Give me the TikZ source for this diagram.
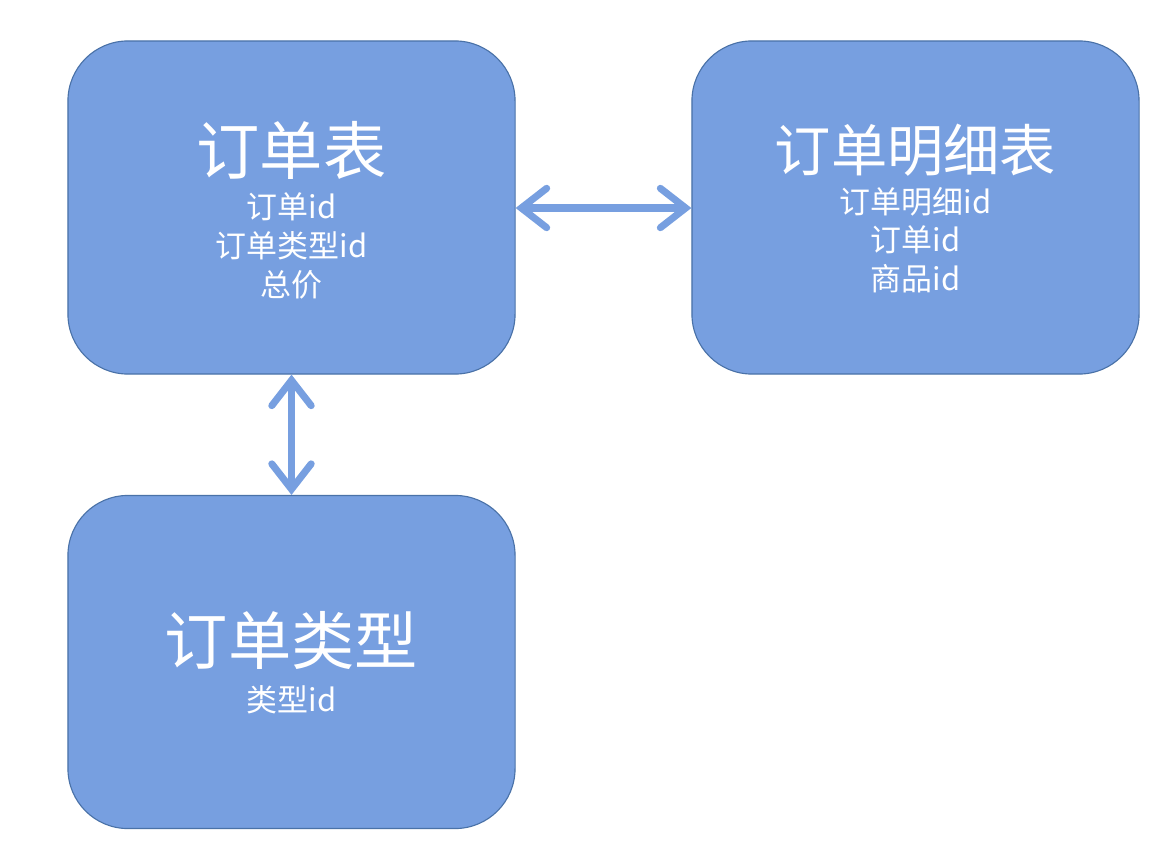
\documentclass[tikz,border=0pt]{standalone}
\usepackage{fontspec}
\newfontfamily\cjk{Noto Sans CJK SC}
\usetikzlibrary{positioning, arrows.meta}
\definecolor{boxfill}{HTML}{779FE0}
\definecolor{boxline}{HTML}{4A72A8}

\begin{document}
\begin{tikzpicture}[
    x=0.025cm, y=-0.025cm,
    every node/.style={font=\cjk, text=white},
    table/.style={draw=boxline, fill=boxfill, line width=0.8pt, rounded corners=1.5cm,
        minimum width=11.175cm, minimum height=8.325cm, anchor=center},
    title/.style={font=\cjk\fontsize{45}{50}\selectfont, anchor=center},
    fields/.style={font=\cjk\fontsize{22}{27.6}\selectfont, align=center, anchor=north},
    link/.style={{Straight Barb[length=18pt, width=28pt, line cap=round]}-{Straight Barb[length=18pt, width=28pt, line cap=round]},
        line width=5pt, boxfill, line cap=round}
]
    \useasboundingbox (0,0) rectangle (1162,854);
    \fill[white] (0,0) rectangle (1162,854);

    % --- tables ---
    \node[table] (order) at (291.5, 207.5) {};
    \node[table] (detail) at (915.5, 207.5) {};
    \node[table] (otype) at (291.5, 662) {};

    % --- order ---
    \node[title] (order-t) at (291.5, 150) {订单表};
    \node[fields] (order-f) at (291.5, 188) {订单id\\订单类型id\\总价};

    % --- order detail ---
    \node[title, font=\cjk\fontsize{40}{45}\selectfont] (detail-t) at (915.5, 150) {订单明细表};
    \node[fields] (detail-f) at (915.5, 182) {订单明细id\\订单id\\商品id};

    % --- order type ---
    \node[title] (otype-t) at (291.5, 640) {订单类型};
    \node[fields] (otype-f) at (291.5, 681) {类型id};

    % --- relations ---
    \draw[link] (order.east |- 0,208) -- (detail.west |- 0,208);
    \draw[link] (order.south) -- (otype.north);

\end{tikzpicture}
\end{document}
